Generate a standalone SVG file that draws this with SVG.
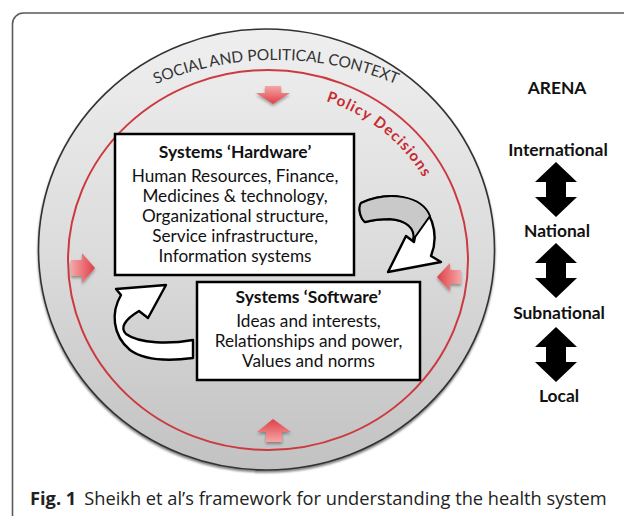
<svg xmlns="http://www.w3.org/2000/svg" width="624" height="516" viewBox="0 0 624 516">
  <defs>
    <linearGradient id="discFill" x1="0" y1="0" x2="0" y2="1">
      <stop offset="0" stop-color="#efefef"/>
      <stop offset="0.5" stop-color="#dcdcdc"/>
      <stop offset="1" stop-color="#c2c2c2"/>
    </linearGradient>
    <linearGradient id="redV" x1="0" y1="0" x2="0" y2="1">
      <stop offset="0" stop-color="#f6a5a6"/>
      <stop offset="1" stop-color="#de3f45"/>
    </linearGradient>
    <linearGradient id="redV2" x1="0" y1="1" x2="0" y2="0">
      <stop offset="0" stop-color="#f6a5a6"/>
      <stop offset="1" stop-color="#de3f45"/>
    </linearGradient>
    <linearGradient id="redH" x1="0" y1="0" x2="1" y2="0">
      <stop offset="0" stop-color="#f6a5a6"/>
      <stop offset="1" stop-color="#de3f45"/>
    </linearGradient>
    <linearGradient id="redH2" x1="1" y1="0" x2="0" y2="0">
      <stop offset="0" stop-color="#f6a5a6"/>
      <stop offset="1" stop-color="#de3f45"/>
    </linearGradient>
    <filter id="shadow" x="-20%" y="-20%" width="140%" height="140%">
      <feDropShadow dx="0" dy="2" stdDeviation="1.5" flood-color="#000" flood-opacity="0.35"/>
    </filter>
    <filter id="discShadow" x="-10%" y="-10%" width="120%" height="120%">
      <feDropShadow dx="0" dy="2" stdDeviation="1.2" flood-color="#000" flood-opacity="0.5"/>
    </filter>
    <path id="socialArc" d="M 121,101.5 A 310 310 0 0 1 431,101.5"/>
    <path id="policyArc" d="M 326,101 A 178 168 0 0 1 446,260"/>
  </defs>
  <style>
    .frame { fill: none; stroke: #5a5a5a; stroke-width: 1.6; }
    .box { fill: #ffffff; stroke: #000000; stroke-width: 2.5; }
    .title { font-family: Lato, "Liberation Sans", sans-serif; font-weight: bold; font-size: 17.5px; fill: #111; text-anchor: middle; }
    .body { font-family: Lato, "Liberation Sans", sans-serif; font-size: 17.2px; fill: #111; text-anchor: middle; }
    .arena { font-family: Lato, "Liberation Sans", sans-serif; font-weight: bold; font-size: 17.4px; fill: #111; text-anchor: middle; }
    .social { font-family: Lato, "Liberation Sans", sans-serif; font-size: 15.5px; fill: #333; }
    .policy { font-family: Lato, "Liberation Sans", sans-serif; font-weight: bold; font-size: 15px; fill: #c62a32; letter-spacing: 1.2px; }
    .curl { fill: #ffffff; stroke: #000; stroke-width: 2.4; stroke-linejoin: round; }
    .curlShade { fill: #c9c9c9; stroke: #000; stroke-width: 2; stroke-linejoin: round; }
    .dbl { fill: #000; }
    .caption { font-family: "Open Sans", "Liberation Sans", sans-serif; font-size: 18.25px; fill: #222; }
  </style>

  <rect width="624" height="516" fill="#ffffff"/>
  <path class="frame" d="M 12.5,516 V 24 A 11 11 0 0 1 23.5,13 H 624"/>

  <g id="context">
    <ellipse cx="266.5" cy="249.5" rx="228" ry="220.5" fill="url(#discFill)" stroke="#333" stroke-width="1.6" filter="url(#discShadow)"/>
    <text class="social"><textPath href="#socialArc" startOffset="50%" text-anchor="middle">SOCIAL AND POLITICAL CONTEXT</textPath></text>
  </g>

  <g id="policy-decisions">
    <ellipse cx="268" cy="260" rx="200" ry="190" fill="none" stroke="#cc3a40" stroke-width="2"/>
    <text class="policy"><textPath href="#policyArc">Policy Decisions</textPath></text>
  </g>

  <g id="policy-arrows" filter="url(#shadow)">
    <polygon points="265,86 281,86 281,93 290,93 273,104 256,93 265,93" fill="url(#redV)"/>
    <polygon points="266,442 282,442 282,432 291,432 273,419 257,432 266,432" fill="url(#redV2)"/>
    <polygon points="71,260 82,260 82,253 95,268 82,283 82,276 71,276" fill="url(#redH)"/>
    <polygon points="461,270 450,270 450,263 437,277 450,291 450,284 461,284" fill="url(#redH2)"/>
  </g>

  <g id="connectors">
    <g id="curl-hw-to-sw">
      <path class="curl" d="M 361,203 C 390,190 422,196 432,222 C 436,234 435,246 431,256 L 441,262 L 388,272 L 406,236 L 414,242 C 418,228 405,220 390,219 C 380,219 372,220 365,222 C 360,218 358,208 361,203 Z"/>
      <path class="curlShade" d="M 361,203 C 390,190 422,196 430,216 L 413,240 C 416,228 405,220 390,219 C 380,219 372,220 365,222 C 360,218 358,208 361,203 Z"/>
    </g>
    <g id="curl-sw-to-hw">
      <path class="curl" d="M 193,340 C 170,344 140,344 126,334 C 120,328 124,320 139,311 L 148,318 L 166,285 L 116,289 L 121,295 C 111,312 112,335 130,350 C 145,361 170,361 193,358 Z"/>
    </g>
  </g>

  <g id="hardware">
    <rect class="box" x="115" y="134" width="239" height="141"/>
    <text class="title" x="235" y="158">Systems ‘Hardware’</text>
    <text class="body" x="235" y="182">Human Resources, Finance,</text>
    <text class="body" x="235" y="202">Medicines &amp; technology,</text>
    <text class="body" x="235" y="222">Organizational structure,</text>
    <text class="body" x="235" y="242">Service infrastructure,</text>
    <text class="body" x="235" y="262">Information systems</text>
  </g>

  <g id="software">
    <rect class="box" x="197" y="282" width="223" height="98"/>
    <text class="title" x="308.5" y="303">Systems ‘Software’</text>
    <text class="body" x="308.5" y="327">Ideas and interests,</text>
    <text class="body" x="308.5" y="347">Relationships and power,</text>
    <text class="body" x="308.5" y="367">Values and norms</text>
  </g>

  <g id="arena">
    <text class="arena" x="557" y="94">ARENA</text>
    <text class="arena" x="558" y="156">International</text>
    <polygon class="dbl" points="556,162 577,182 566,182 566,197 577,197 556,217 535,197 546,197 546,182 535,182"/>
    <text class="arena" x="557" y="237">National</text>
    <polygon class="dbl" points="556,243 577,263 566,263 566,278 577,278 556,298 535,278 546,278 546,263 535,263"/>
    <text class="arena" x="559" y="319">Subnational</text>
    <polygon class="dbl" points="556,327 577,347 566,347 566,362 577,362 556,382 535,362 546,362 546,347 535,347"/>
    <text class="arena" x="559" y="402">Local</text>
  </g>

  <g id="caption">
    <text class="caption" x="30" y="505"><tspan font-weight="bold">Fig. 1</tspan><tspan dx="8">Sheikh et al’s framework for understanding the health system</tspan></text>
  </g>
</svg>
